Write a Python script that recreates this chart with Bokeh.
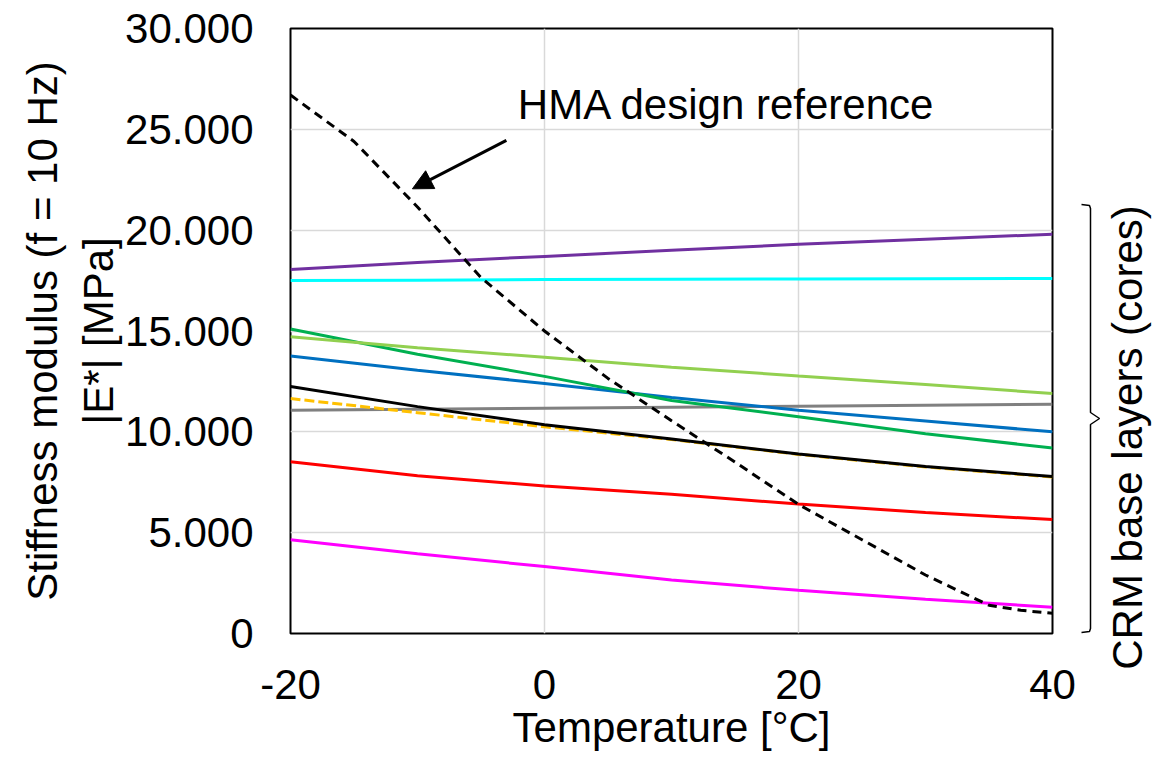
import numpy as np
from bokeh.plotting import figure
from bokeh.layouts import row
from bokeh.models import Range1d, FixedTicker, Label, Arrow, NormalHead
from bokeh.core.properties import value
from bokeh.embed import file_html
from bokeh.resources import INLINE

# ---- data ----
temps = [-20, -10, 0, 10, 20, 30, 40]
purple = [18050, 18400, 18700, 19000, 19300, 19550, 19800]
cyan = [17500, 17520, 17550, 17570, 17580, 17590, 17600]
green = [15100, 13850, 12750, 11550, 10750, 9900, 9200]
light_green = [14720, 14170, 13700, 13200, 12770, 12350, 11900]
blue = [13760, 13050, 12400, 11700, 11070, 10540, 10000]
black = [12250, 11250, 10350, 9640, 8900, 8280, 7780]
orange = [11650, 10950, 10250, 9620, 8880, 8260, 7760]
gray = [11070, 11120, 11170, 11220, 11270, 11320, 11370]
red = [8520, 7820, 7320, 6900, 6420, 6000, 5650]
magenta = [4650, 3950, 3320, 2650, 2140, 1700, 1300]

hma_temps = [-20, -15, -10, -5, 0, 5, 10, 15, 20, 25, 30, 35, 37.5, 40]
hma = [26700, 24400, 21150, 17650, 15000, 12650, 10550, 8500, 6400, 4650, 2900, 1400, 1150, 1000]

x_ticks = [-20, 0, 20, 40]
x_tick_labels = ["-20", "0", "20", "40"]
y_ticks = [0, 5000, 10000, 15000, 20000, 25000, 30000]
y_tick_labels = ["0", "5.000", "10.000", "15.000", "20.000", "25.000", "30.000"]

FONT = "Liberation Sans"
FS = "42px"

p = figure(width=1080, height=762, output_backend="svg", toolbar_location=None,
           x_range=Range1d(-20, 40), y_range=Range1d(0, 30000),
           min_border_left=290, min_border_right=28, min_border_top=28, min_border_bottom=129)
p.frame_align = False

p.background_fill_color = "white"
p.border_fill_color = "white"
p.outline_line_color = "black"
p.outline_line_width = 2
p.outline_line_alpha = 1.0

p.xaxis.ticker = FixedTicker(ticks=x_ticks)
p.yaxis.ticker = FixedTicker(ticks=y_ticks)
p.xaxis.major_label_overrides = {t: l for t, l in zip(x_ticks, x_tick_labels)}
p.yaxis.major_label_overrides = {t: l for t, l in zip(y_ticks, y_tick_labels)}

for ax in (p.xaxis, p.yaxis):
    ax.axis_line_color = None
    ax.major_tick_line_color = None
    ax.minor_tick_line_color = None
    ax.major_label_text_font = FONT
    ax.major_label_text_font_size = FS
    ax.major_label_text_color = "black"
    ax.axis_label_text_font = FONT
    ax.axis_label_text_font_size = FS
    ax.axis_label_text_font_style = "normal"
    ax.axis_label_text_color = "black"

p.xaxis.axis_label = "Temperature [°C]"
p.yaxis.axis_label = "Stiffness modulus (f = 10 Hz)\n|E*| [MPa]"
p.yaxis.major_label_standoff = 31
p.yaxis.axis_label_standoff = 0
p.xaxis.major_label_standoff = 30
p.xaxis.axis_label_standoff = 2

p.xgrid.grid_line_color = "#D9D9D9"
p.ygrid.grid_line_color = "#D9D9D9"
p.xgrid.grid_line_width = 1.5
p.ygrid.grid_line_width = 1.5

LW = 3
p.line(temps, magenta, line_color="#FF00FF", line_width=LW)
p.line(temps, red, line_color="#FF0000", line_width=LW)
p.line(temps, gray, line_color="#808080", line_width=LW)
p.line(temps, orange, line_color="#FFC000", line_width=LW, line_dash="10 4")
p.line(temps, black, line_color="#000000", line_width=LW)
p.line(temps, blue, line_color="#0070C0", line_width=LW)
p.line(temps, green, line_color="#00B050", line_width=LW)
p.line(temps, light_green, line_color="#92D050", line_width=LW)
p.line(temps, cyan, line_color="#00FFFF", line_width=LW)
p.line(temps, purple, line_color="#7030A0", line_width=LW)
p.line(hma_temps, hma, line_color="black", line_width=LW, line_dash="9 6")

# annotation text and arrow
p.add_layout(Label(x=-2.1, y=26250, text="HMA design reference", text_font=FONT,
                   text_font_size=FS, text_color="black", text_baseline="alphabetic"))
p.add_layout(Arrow(x_start=-3.0, y_start=24450, x_end=-10.4, y_end=22050,
                   line_width=3, line_color="black",
                   end=NormalHead(size=20, fill_color="black", line_color="black")))

# ---- side panel: brace + group label ----
side = figure(width=80, height=762, output_backend="svg", toolbar_location=None,
              x_range=Range1d(0, 80), y_range=Range1d(0, 762),
              min_border=0, min_border_left=0, min_border_right=0,
              min_border_top=0, min_border_bottom=0)
side.frame_align = False
side.axis.visible = False
side.grid.visible = False
side.outline_line_color = None
side.background_fill_color = "white"
side.border_fill_color = "white"

brace_x = [1, 9, 10, 10, 19, 10, 10, 9, 1]
brace_y = [558, 557, 554, 350, 344, 338, 134, 131, 130]
side.line(brace_x, brace_y, line_color="black", line_width=1.5)
side.text(x=[47], y=[325], text=["CRM base layers (cores)"], angle=np.pi / 2,
          text_font=value(FONT), text_font_size=FS, text_color="black",
          text_align="center", text_baseline="middle")

layout = row(p, side, spacing=0)
open("out.html", "w").write(file_html(layout, INLINE))
